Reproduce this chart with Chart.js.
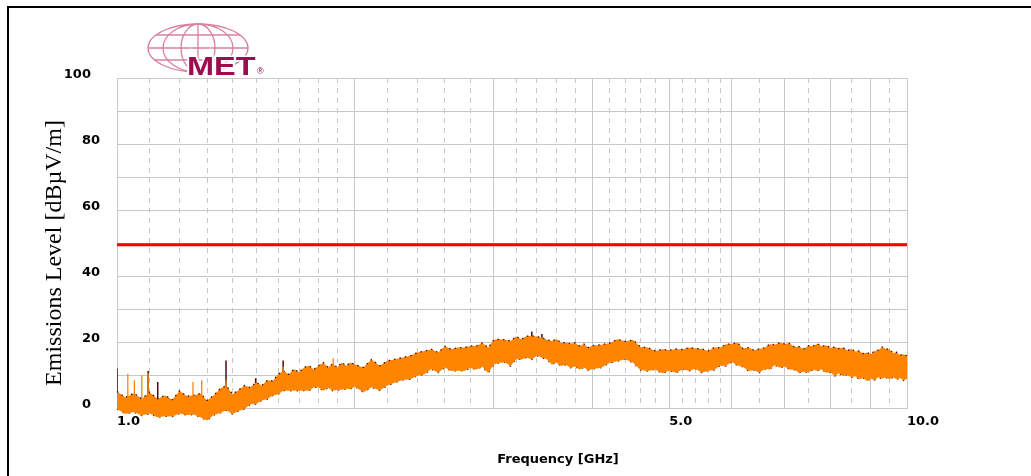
<!DOCTYPE html>
<html>
<head>
<meta charset="utf-8">
<script src="https://cdn.jsdelivr.net/npm/chart.js@4.4.1/dist/chart.umd.min.js"></script>
<style>
  html, body { margin: 0; padding: 0; background: #fff; }
  #wrap { position: relative; width: 1031px; height: 476px; }
  #frame { position: absolute; left: 7px; top: 6px; right: 0; bottom: 0;
           border-left: 2px solid #000; border-top: 2px solid #000; pointer-events: none; }
</style>
</head>
<body>
<div id="wrap">
  <canvas id="chart" width="1031" height="476"></canvas>
  <div id="frame"></div>
</div>
<script>
// emission trace: frequency (GHz) with upper / lower edge of the band (dBuV/m)
const bandFreq = [
  1.000, 1.025, 1.050, 1.075, 1.100, 1.125, 1.150, 1.175, 1.200, 1.225,
  1.250, 1.275, 1.300, 1.325, 1.350, 1.375, 1.400, 1.425, 1.450, 1.475,
  1.500, 1.525, 1.550, 1.575, 1.600, 1.625, 1.650, 1.675, 1.700, 1.725,
  1.750, 1.775, 1.800, 1.825, 1.850, 1.875, 1.900, 1.925, 1.950, 1.975, 2.000,
  2.05, 2.10, 2.15, 2.20, 2.25, 2.30, 2.35, 2.40, 2.45, 2.50,
  2.55, 2.60, 2.65, 2.70, 2.75, 2.80, 2.85, 2.90, 2.95, 3.00,
  3.05, 3.10, 3.15, 3.20, 3.25, 3.30, 3.35, 3.40, 3.45, 3.50,
  3.55, 3.60, 3.65, 3.70, 3.75, 3.80, 3.85, 3.90, 3.95, 4.00,
  4.1, 4.2, 4.3, 4.4, 4.5, 4.6, 4.7, 4.8, 4.9, 5.0,
  5.1, 5.2, 5.3, 5.4, 5.5, 5.6, 5.7, 5.8, 5.9, 6.0,
  6.1, 6.2, 6.3, 6.4, 6.5, 6.6, 6.7, 6.8, 6.9, 7.0,
  7.1, 7.2, 7.3, 7.4, 7.5, 7.6, 7.7, 7.8, 7.9, 8.0,
  8.1, 8.2, 8.3, 8.4, 8.5, 8.6, 8.7, 8.8, 8.9, 9.0,
  9.1, 9.2, 9.3, 9.4, 9.5, 9.6, 9.7, 9.8, 9.9, 10.0
];
const bandHigh = [
  5, 3.2, 4.5, 2.8, 4.8, 2.8, 3.8, 2.5, 5.2, 3.6,
  3.8, 4.4, 2.3, 3.8, 5.8, 6.8, 4.2, 5.4, 6.8, 6.2,
  7.8, 6.8, 8.4, 8.2, 10.3, 11.2, 10.2, 11.8, 10.8, 12.3,
  12.8, 11.7, 12.9, 13.8, 12.3, 13.4, 12.3, 13.8, 12.8, 13.8, 13.2,
  12.3, 14.7, 12.8, 14.3, 14.8, 15.3, 15.8, 16.8, 17.3, 17.8,
  16.8, 18.7, 17.8, 18.3, 18.3, 18.8, 18.8, 19.7, 18.3, 20.7,
  20.8, 20.7, 20.3, 21.7, 20.8, 21.8, 21.8, 21.7, 21.3, 20.7,
  20.3, 20.8, 19.8, 19.8, 19.5, 19.8, 18.8, 19.4, 18.3, 18.9,
  19.2, 19.6, 20.8, 20.2, 20.6, 18.5, 18.3, 17.3, 17.8, 17.5,
  17.9, 17.7, 18.3, 18, 17.9, 17.3, 18.3, 18.3, 19.3, 19.4,
  19.8, 18, 18.3, 17.5, 17.9, 18.2, 19.3, 19.2, 19.8, 19.4,
  19.6, 18.5, 18.6, 17.9, 18.9, 18.7, 19.5, 18.7, 19, 18.2,
  18.5, 18, 18.3, 17.4, 17.9, 17.1, 17.3, 16.5, 16.8, 16.3,
  17.3, 17.5, 18.5, 17.9, 17.8, 16.7, 16.9, 16, 16.3, 15.8
];
const bandLow = [
  -0.3, -1.8, -1.2, -2.3, -1.7, -2.8, -2.5, -2.6, -1.7, -2.1,
  -2, -2.8, -3.8, -2.2, -1.5, -0.7, -1.8, -0.9, -0.3, 1.1,
  1.2, 2.3, 2.7, 3.8, 4.2, 5.3, 5.2, 5.3, 5.2, 5.3,
  5.2, 6.3, 6.2, 5.2, 6.1, 5.2, 5.5, 5.5, 5.8, 5.7, 6.5,
  4.8, 6.3, 5.3, 6.8, 7.7, 8.5, 8.7, 9.8, 10.2, 11.8,
  10.7, 12.3, 11.2, 11.3, 11.2, 12.1, 11.7, 12.5, 10.6, 13.2,
  13.7, 13.8, 12.7, 14.8, 14.7, 15.3, 14.7, 15.8, 15.2, 14.8,
  13.2, 13.8, 12.7, 13.1, 12.2, 12.6, 11.7, 12.3, 11.4, 11.8,
  12.2, 13.6, 14.2, 14.8, 13.7, 11.5, 11.2, 11.7, 10.5, 11.3,
  10.7, 11.7, 11.3, 11.9, 10.7, 11.3, 11.5, 12.8, 12.7, 14,
  12.9, 12.5, 11.2, 11.5, 10.7, 11.8, 11.7, 13, 12.2, 12.6,
  11.7, 11.6, 10.7, 11, 10.7, 11.6, 11.3, 11.7, 10.7, 10.8,
  9.7, 10.5, 9.7, 10.1, 9.3, 9.6, 8.7, 9.1, 8.2, 8.9,
  8.5, 9.3, 8.9, 9.3, 8.7, 9.3, 8.7, 9.1, 8.3, 8.8
];

// isolated spikes above the band
const peakSpikeFreq = [1.000, 1.095, 1.126, 1.374, 1.498, 1.623, 3.35, 3.45];
const peakSpikeLow  = [4, 3, 2, 5, 6, 10, 20, 20];
const peakSpikeHigh = [12, 11.2, 7.9, 14.4, 9, 14.4, 23.2, 22.4];
const avgSpikeFreq = [1.032, 1.052, 1.075, 1.095, 1.248, 1.280, 1.374, 1.623, 1.878];
const avgSpikeLow  = [3, 3, 3, 3, 3, 3, 5, 10, 12];
const avgSpikeHigh = [10.4, 8.4, 9.9, 10.5, 7.9, 8.4, 8.4, 12.5, 15];

// limit line
const limitFreq = [1, 10];
const limitLevel = [49.5, 49.5];

// axes
const gridFreqs = [
  1, 1.1, 1.2, 1.3, 1.4, 1.5, 1.6, 1.7, 1.8, 1.9,
  2, 2.2, 2.4, 2.6, 2.8, 3, 3.2, 3.4, 3.6, 3.8,
  4, 4.2, 4.4, 4.6, 4.8, 5, 5.2, 5.4, 5.6, 5.8,
  6, 6.5, 7, 7.5, 8, 8.5, 9, 9.5, 10
];
const xTickValues = [1, 5, 10];
const xTickText = ["1.0", "5.0", "10.0"];
const yTickValues = [0, 20, 40, 60, 80, 100];
const yTickText = ["0\u00a0\u00a0", "20", "40", "60", "80", "100\u00a0\u00a0"];
const xTitle = "Frequency [GHz]";
const yTitle = "Emissions Level [dB\u00b5V/m]";

const ORANGE = "#ff8400";
const DARK = "#4a0d0d";
const GRID = "#c8c8c8";
const tickFont = { family: "DejaVu Sans", weight: "bold", size: 13 };

const xy = (xs, ys) => xs.map((x, i) => ({ x, y: ys[i] }));
const segs = (xs, lo, hi) => xs.flatMap((x, i) => [{ x, y: lo[i] }, { x, y: hi[i] }, { x, y: null }]);

function drawLogo(c) {
  const cx = 198, cy = 48, rx = 50, ry = 24;
  c.save();
  c.strokeStyle = "#d8819f";
  c.lineWidth = 1.3;
  c.beginPath();
  c.ellipse(cx, cy, rx, ry, 0, 0, Math.PI * 2);
  c.stroke();
  [17, 35].forEach((r) => {
    c.beginPath();
    c.ellipse(cx, cy, r, ry, 0, 0, Math.PI * 2);
    c.stroke();
  });
  c.beginPath();
  c.moveTo(cx, cy - ry);
  c.lineTo(cx, cy + ry);
  c.stroke();
  [-13, 0, 12].forEach((dy) => {
    const hw = rx * Math.sqrt(1 - (dy / ry) ** 2);
    c.beginPath();
    c.moveTo(cx - hw, cy + dy);
    c.lineTo(cx + hw, cy + dy);
    c.stroke();
  });
  c.save();
  c.translate(187, 75);
  c.scale(1.3, 1);
  c.font = 'bold 25px "Liberation Sans"';
  c.textAlign = "left";
  c.textBaseline = "alphabetic";
  c.lineWidth = 3;
  c.strokeStyle = "#fff";
  c.strokeText("MET", 0, 0);
  c.fillStyle = "#9b0d4f";
  c.fillText("MET", 0, 0);
  c.restore();
  c.fillStyle = "#9b0d4f";
  c.font = '9px "Liberation Sans"';
  c.fillText("\u00ae", 257, 74);
  c.restore();
}

// the trace runs a little below 0 dB in the reference, so let the fill spill under the axis
const spill = {
  id: "spill",
  beforeDatasetsDraw(chart) {
    chart.chartArea.bottom += 14;
  },
  afterDatasetsDraw(chart) {
    chart.chartArea.bottom -= 14;
  },
};

const decorations = {
  id: "decorations",
  afterDraw(chart) {
    const c = chart.ctx;
    c.save();
    c.fillStyle = "#000";
    c.textAlign = "center";
    c.textBaseline = "middle";
    c.font = 'bold 13px "DejaVu Sans"';
    c.fillText(xTitle, 558, 460);
    c.translate(55, 253);
    c.rotate(-Math.PI / 2);
    c.font = '24px "Liberation Serif"';
    c.fillText(yTitle, 0, 0);
    c.restore();
    drawLogo(c);
  },
};

new Chart(document.getElementById("chart"), {
  type: "line",
  data: {
    datasets: [
      { data: xy(limitFreq, limitLevel), borderColor: "#ff0000", borderWidth: 3 },
      { data: segs(avgSpikeFreq, avgSpikeLow, avgSpikeHigh), borderColor: ORANGE, borderWidth: 1.3, spanGaps: false },
      { data: xy(bandFreq, bandHigh), borderColor: DARK, backgroundColor: ORANGE, borderWidth: 1.3,
        borderDash: [1.5, 4], fill: "+1", clip: false },
      { data: xy(bandFreq, bandLow), borderColor: DARK, borderWidth: 1.3, borderDash: [1.5, 5], clip: false },
      { data: segs(peakSpikeFreq, peakSpikeLow, peakSpikeHigh), borderColor: DARK, borderWidth: 1.5, spanGaps: false },
    ],
  },
  options: {
    responsive: false,
    animation: false,
    devicePixelRatio: 1,
    elements: { point: { radius: 0 }, line: { tension: 0 } },
    layout: { padding: { left: 0, top: 78, right: 124, bottom: 0 } },
    plugins: { legend: { display: false }, tooltip: { enabled: false } },
    scales: {
      x: {
        type: "logarithmic",
        min: 1,
        max: 10,
        afterBuildTicks: (axis) => {
          axis.ticks = gridFreqs.map((v) => ({ value: v }));
        },
        afterFit: (axis) => {
          axis.height = 68;
        },
        grid: { color: GRID, lineWidth: 1, drawTicks: false },
        border: {
          color: GRID,
          dash: (ctx) => (ctx.tick && !Number.isInteger(ctx.tick.value) ? [5, 5] : []),
        },
        ticks: {
          autoSkip: false,
          maxRotation: 0,
          align: "start",
          padding: 6,
          color: "#000",
          font: tickFont,
          callback: (v) => {
            const i = xTickValues.indexOf(v);
            return i >= 0 ? xTickText[i] : "";
          },
        },
      },
      y: {
        min: 0,
        max: 100,
        afterFit: (axis) => {
          axis.width = 117;
        },
        grid: { color: GRID, lineWidth: 1, drawTicks: false },
        border: { color: GRID },
        ticks: {
          stepSize: 10,
          padding: 17,
          labelOffset: -3,
          color: "#000",
          font: tickFont,
          callback: (v) => {
            const i = yTickValues.indexOf(v);
            return i >= 0 ? yTickText[i] : "";
          },
        },
      },
    },
  },
  plugins: [spill, decorations],
});
</script>
</body>
</html>
